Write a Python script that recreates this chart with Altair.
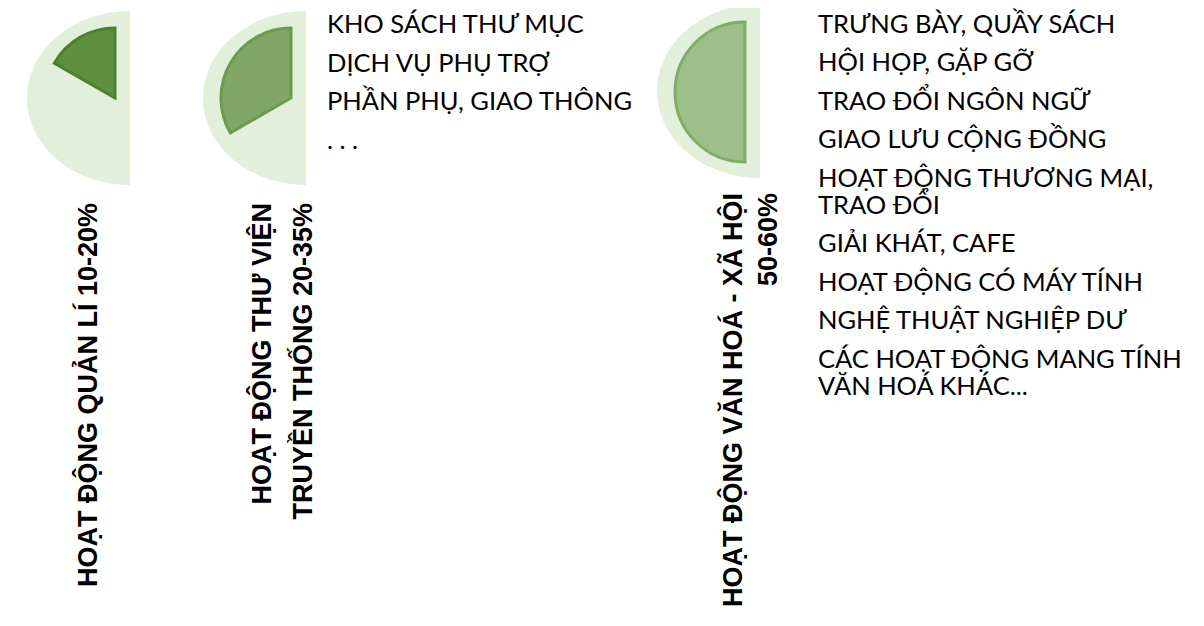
import math
import altair as alt
import pandas as pd

# ---------------- data ----------------
gauge_names = ["Quản lí", "Thư viện truyền thống", "Văn hoá - xã hội"]
gauge_label_lines = [
    ["HOẠT ĐỘNG QUẢN LÍ 10-20%"],
    ["HOẠT ĐỘNG THƯ VIỆN", "TRUYỀN THỐNG 20-35%"],
    ["HOẠT ĐỘNG VĂN HOÁ - XÃ HỘI", "50-60%"],
]
# share of a full circle covered by the dark sector
sector_share = [16.7, 33.3, 50.0]

list_library = ["KHO SÁCH THƯ MỤC", "DỊCH VỤ PHỤ TRỢ", "PHẦN PHỤ, GIAO THÔNG", ". . ."]
list_culture = [
    "TRƯNG BÀY, QUẦY SÁCH",
    "HỘI HỌP, GẶP GỠ",
    "TRAO ĐỔI NGÔN NGỮ",
    "GIAO LƯU CỘNG ĐỒNG",
    "HOẠT ĐỘNG THƯƠNG MẠI,\nTRAO ĐỔI",
    "GIẢI KHÁT, CAFE",
    "HOẠT ĐỘNG CÓ MÁY TÍNH",
    "NGHỆ THUẬT NGHIỆP DƯ",
    "CÁC HOẠT ĐỘNG MANG TÍNH\nVĂN HOÁ KHÁC...",
]

# ---------------- layout / style ----------------
W, H = 1188, 610
bg_center_x = [122, 298, 752]
bg_center_y = [90, 90, 83]
bg_rx, bg_ry = 103, 87
sec_center_x = [107, 283, 737]
sec_center_y = [90, 90, 84]
sec_radius = 70
sec_fill = ["#5e8e3e", "#80a767", "#9dc08a"]
sec_stroke = ["#4e8030", "#6a9b4e", "#80ad67"]
bg_color = "#e2efda"

label_x = [[89], [263, 304], [734, 769]]
label_y_end = [195, 195, 185]

list1_x, list1_y0 = 319, 25
list2_x, list2_y0 = 810, 24.5
para_step, line_h = 38.5, 27

# ---------------- tables ----------------
bg_df = pd.DataFrame({"name": gauge_names, "px": bg_center_x, "py": bg_center_y})
sec_df = pd.DataFrame({
    "name": gauge_names, "share": sector_share,
    "px": sec_center_x, "py": sec_center_y,
    "fill": sec_fill, "stroke": sec_stroke,
})

lab_rows = []
for lines, xs, ye in zip(gauge_label_lines, label_x, label_y_end):
    for t, x in zip(lines, xs):
        lab_rows.append({"text": t, "px": x, "py": ye})
lab_df = pd.DataFrame(lab_rows)


def layout_list(items, x0, y0):
    rows, y = [], y0
    for it in items:
        rows.append({"text": it, "px": x0, "py": y})
        y += it.count("\n") * line_h + para_step
    return rows


list_df = pd.DataFrame(layout_list(list_library, list1_x, list1_y0) +
                       layout_list(list_culture, list2_x, list2_y0))

X = alt.X("px:Q", scale=alt.Scale(domain=[0, W], nice=False, zero=False), axis=None)
Y = alt.Y("py:Q", scale=alt.Scale(domain=[0, H], nice=False, zero=False, reverse=True), axis=None)

half_ellipse = "M0,-{r:.4f}A1,{r:.4f},0,0,0,0,{r:.4f}Z".format(r=bg_ry / bg_rx)

background = alt.Chart(bg_df).mark_point(
    filled=True, opacity=1, strokeWidth=0, shape=half_ellipse,
    size=(2 * bg_rx) ** 2, color=bg_color,
).encode(x=X, y=Y)

sectors = alt.Chart(sec_df).transform_calculate(
    t0="2*PI*(1 - datum.share/100)", t1="2*PI"
).mark_arc(radius=sec_radius, strokeWidth=3, strokeJoin="miter").encode(
    x=X, y=Y,
    theta=alt.Theta("t0:Q", scale=None, stack=None),
    theta2=alt.Theta2("t1:Q"),
    fill=alt.Fill("fill:N", scale=None),
    stroke=alt.Stroke("stroke:N", scale=None),
)

labels = alt.Chart(lab_df).mark_text(
    angle=270, align="right", baseline="alphabetic",
    font="Liberation Sans", fontSize=27, fontWeight="bold", color="#000000",
).encode(x=X, y=Y, text="text:N")

lists = alt.Chart(list_df).mark_text(
    align="left", baseline="alphabetic", lineBreak="\n", lineHeight=line_h,
    font="Lato", fontSize=25.5, color="#000000",
).encode(x=X, y=Y, text="text:N")

chart = alt.layer(background, sectors, labels, lists).properties(
    width=W, height=H, padding=0, autosize=alt.AutoSizeParams(type="none"),
).configure_view(stroke=None)

chart.save("out.html", embed_options={"renderer": "svg", "actions": False})
